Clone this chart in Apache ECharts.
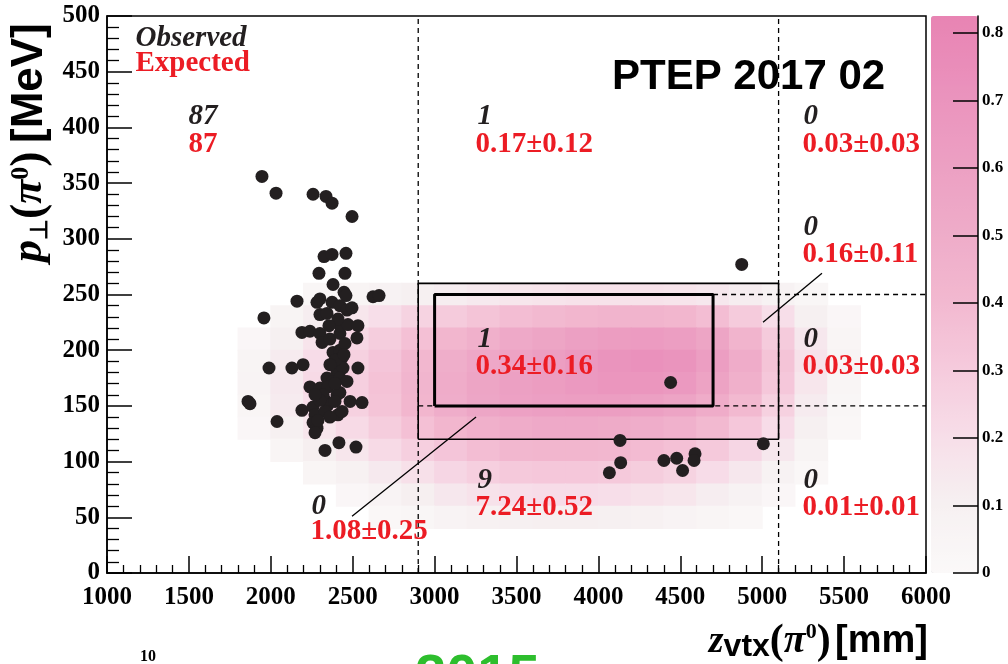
<!DOCTYPE html>
<html><head><meta charset="utf-8">
<script src="https://cdn.jsdelivr.net/npm/echarts@6/dist/echarts.min.js"></script>
<style>html,body{margin:0;padding:0;background:#fff}#c{width:1008px;height:664px}</style>
</head><body><div id="c"></div>
<script>
// ---------- axis ticks ----------
const xMin = 1000, xMax = 6000, xStep = 500;
const yMin = 0, yMax = 500, yStep = 50;
const colorbarMax = 0.825;
const colorbarTicks = [0, 0.1, 0.2, 0.3, 0.4, 0.5, 0.6, 0.7, 0.8];

// ---------- expected density (z bin centres x pT bin centres) ----------
const zBins = [1900,2100,2300,2500,2700,2900,3100,3300,3500,3700,3900,4100,4300,4500,4700,4900,5100,5300,5500];
const pBins = [250,230,210,190,170,150,130,110,90,70,50];
const dens250 = [0,0,0.04,0.06,0.08,0.10,0.12,0.14,0.16,0.17,0.18,0.18,0.18,0.17,0.15,0.12,0.08,0.04,0];
const dens230 = [0,0.06,0.12,0.16,0.20,0.26,0.30,0.34,0.38,0.40,0.42,0.44,0.44,0.42,0.38,0.30,0.20,0.10,0.03];
const dens210 = [0.03,0.10,0.17,0.23,0.29,0.36,0.42,0.47,0.52,0.56,0.60,0.63,0.64,0.62,0.56,0.44,0.30,0.15,0.05];
const dens190 = [0.06,0.13,0.21,0.27,0.33,0.41,0.48,0.54,0.58,0.62,0.66,0.70,0.72,0.70,0.62,0.50,0.34,0.18,0.06];
const dens170 = [0.07,0.14,0.22,0.28,0.35,0.43,0.50,0.56,0.60,0.63,0.66,0.68,0.68,0.66,0.58,0.47,0.32,0.16,0.05];
const dens150 = [0.05,0.13,0.20,0.27,0.34,0.42,0.49,0.55,0.59,0.61,0.62,0.62,0.60,0.57,0.50,0.40,0.27,0.13,0.04];
const dens130 = [0.03,0.10,0.16,0.22,0.29,0.36,0.42,0.47,0.50,0.52,0.52,0.51,0.49,0.46,0.40,0.32,0.21,0.10,0.02];
const dens110 = [0,0.05,0.11,0.16,0.22,0.28,0.33,0.38,0.41,0.42,0.42,0.41,0.39,0.36,0.31,0.24,0.15,0.06,0];
const dens90  = [0,0,0.05,0.09,0.14,0.19,0.24,0.28,0.31,0.32,0.32,0.31,0.29,0.26,0.21,0.15,0.08,0.02,0];
const dens70  = [0,0,0,0.03,0.07,0.11,0.15,0.18,0.20,0.21,0.21,0.20,0.18,0.16,0.12,0.08,0.03,0,0];
const dens50  = [0,0,0,0,0.02,0.04,0.07,0.09,0.10,0.11,0.11,0.10,0.09,0.07,0.05,0.02,0,0,0];
const densityRows = [dens250,dens230,dens210,dens190,dens170,dens150,dens130,dens110,dens90,dens70,dens50];

// ---------- observed events [z_vtx (mm), pT (MeV)] ----------
const eventsUpstream = [
  [1946,356],[2032,341],[2258,340],[2337,338],[2374,332],[2496,320],
  [2325,284],[2374,286],[2459,287],[2294,269],[2453,269],[2380,259],[2447,252],[2459,249],[2160,244],[2282,243],[2300,246],[2374,243],[2422,240],[2624,248],[2661,249],
  [1958,229],[2300,232],[2343,233],[2465,236],[2496,238],[2190,216],[2239,217],[2300,215],[2313,207],[2361,210],[2422,215],[2422,222],[2471,223],[2532,222],[2526,211],[2380,198],[2422,200],[2435,193],[2422,185],[2404,180],[2441,184],[1989,184],[2129,184],[2197,187],[2532,184],[2343,175],[2380,172],[2422,175],[2465,172],[2239,167],[2300,166],[2349,167],[2404,160],[2422,162],
  [1861,154],[1873,152],[2331,155],[2349,151],[2392,154],[2484,154],[2557,153],[2190,146],[2258,149],[2270,142],[2331,145],[2410,142],[2361,140],[2038,136],[2258,135],[2282,130],[2270,126],[2331,110],[2416,117],[2520,113],
  [2392,191],[2453,206],[2319,160],[2288,137],[2361,187],[2410,228],[2447,196],[2300,155],[2392,170],[2435,145],[2270,160],[2355,222]
];
const eventsDecay = [[4875,277],[4441,171],[4132,119],[4136,99],[4067,90],[4400,101],[4478,103],[4514,92],[4590,107],[4584,101],[5007,116]];

// ---------- regions ----------
const outerBox = [[2900,120],[5100,120],[5100,260],[2900,260],[2900,120]];
const signalBox = [[3000,150],[4700,150],[4700,250],[3000,250],[3000,150]];
const dashedLines = [
  [[2900,0],[2900,500]], [[5100,0],[5100,500]],
  [[4700,250],[6000,250]], [[2900,150],[6000,150]]
];
const pointerLines = [ [[2496,51],[3253,140]], [[5005,225],[5365,269]] ];

// ---------- annotations ----------
const annText = ['Observed','Expected','87','87','1','0.17\u00b10.12','0','0.03\u00b10.03','0','0.16\u00b10.11','1','0.34\u00b10.16','0','0.03\u00b10.03','9','7.24\u00b10.52','0','0.01\u00b10.01','0','1.08\u00b10.25'];
const annZ = [1177,1177,1500,1500,3265,3253,5255,5249,5255,5249,3265,3253,5255,5249,3265,3253,5255,5249,2252,2245];
const annP = [479,457,409,384,409,384,409,384,310,285,209,185,209,185,83,58,83,58,59,37];
const annKind = ['obs','exp','obs','exp','obs','exp','obs','exp','obs','exp','obs','exp','obs','exp','obs','exp','obs','exp','obs','exp'];

const RED = '#ec1c24';
const SERIF = '"Liberation Serif","Times New Roman",serif';
const SANS = '"Liberation Sans",Arial,sans-serif';

const heatData = [];
densityRows.forEach((row, i) => row.forEach((v, j) => { if (v > 0) heatData.push([zBins[j], pBins[i], v]); }));

const lineSeries = (pts, width, type) => ({
  type: 'line', data: pts, symbol: 'none', silent: true, z: 5, animation: false,
  lineStyle: { color: '#000', width: width, type: type || 'solid' }
});

const series = [
  {
    type: 'custom', data: heatData, z: 1, silent: true, animation: false,
    renderItem: function (params, api) {
      const z = api.value(0), p = api.value(1);
      const a = api.coord([z - 100, p + 10]);
      const b = api.coord([z + 100, p - 10]);
      return { type: 'rect', shape: { x: a[0] - 0.5, y: a[1] - 0.5, width: b[0] - a[0] + 1, height: b[1] - a[1] + 1 },
               style: { fill: api.visual('color') } };
    }
  }
];
dashedLines.forEach(l => series.push(lineSeries(l, 1.3, [5, 4])));
series.push(lineSeries(outerBox, 1.6));
series.push(lineSeries(signalBox, 3));
pointerLines.forEach(l => series.push(lineSeries(l, 1.3)));
series.push({
  type: 'scatter', data: eventsUpstream.concat(eventsDecay), symbolSize: 13, z: 6, silent: true, animation: false,
  itemStyle: { color: '#231f20', opacity: 1 }
});
series.push({
  type: 'scatter', z: 7, silent: true, animation: false, symbolSize: 1,
  itemStyle: { color: 'rgba(0,0,0,0)', opacity: 1 },
  data: annText.map((t, i) => ({
    value: [annZ[i], annP[i]],
    label: {
      show: true, position: [0, 0], align: 'left', verticalAlign: 'middle', formatter: t,
      fontFamily: SERIF, fontWeight: 'bold',
      fontStyle: annKind[i] === 'obs' ? 'italic' : 'normal',
      fontSize: 29,
      color: annKind[i] === 'obs' ? '#231f20' : RED
    }
  }))
});

const chart = echarts.init(document.getElementById('c'), null, { renderer: 'canvas' });
chart.setOption({
  animation: false,
  backgroundColor: '#fff',
  grid: [
    { left: 107, right: 82, top: 16, bottom: 91, show: true, borderColor: '#000', borderWidth: 1.5, backgroundColor: 'transparent' },
    { left: 931, width: 47, top: 16, height: 557, show: false }
  ],
  xAxis: [
    { type: 'value', min: xMin, max: xMax, interval: xStep, gridIndex: 0,
      axisLine: { lineStyle: { color: '#000', width: 1.5 } },
      axisTick: { inside: true, length: 17, lineStyle: { color: '#000', width: 1.5 } },
      minorTick: { show: true, splitNumber: 5, length: 8, lineStyle: { color: '#000', width: 1.3 } },
      splitLine: { show: false },
      axisLabel: { color: '#000', fontFamily: SERIF, fontWeight: 'bold', fontSize: 25, margin: 12, formatter: v => String(v) } },
    { type: 'value', gridIndex: 1, min: 0, max: 1, show: false }
  ],
  yAxis: [
    { type: 'value', min: yMin, max: yMax, interval: yStep, gridIndex: 0,
      axisLine: { lineStyle: { color: '#000', width: 1.5 } },
      axisTick: { inside: true, length: 25, lineStyle: { color: '#000', width: 1.5 } },
      minorTick: { show: true, splitNumber: 5, length: 12, lineStyle: { color: '#000', width: 1.3 } },
      splitLine: { show: false },
      axisLabel: { color: '#000', fontFamily: SERIF, fontWeight: 'bold', fontSize: 25, margin: 7, formatter: v => String(v) } },
    { type: 'value', gridIndex: 1, position: 'right', min: 0, max: colorbarMax, z: 10,
      axisLine: { show: true, onZero: false, lineStyle: { color: '#000', width: 1.5 } },
      axisTick: { show: true, inside: true, length: 25, customValues: colorbarTicks, lineStyle: { color: '#000', width: 1.5 } },
      axisLabel: { show: true, customValues: colorbarTicks, color: '#000', fontFamily: SERIF, fontWeight: 'bold', fontSize: 17, margin: 4, formatter: v => String(v) },
      splitLine: { show: false } }
  ],
  visualMap: [{
    type: 'continuous', min: 0, max: colorbarMax, seriesIndex: 0, dimension: 2, z: 1,
    left: 931, top: 16, itemWidth: 47, itemHeight: 557, padding: 0, calculable: false, hoverLink: false,
    inRange: { color: ['#fbf9f9','#f6f0f1','#f7dde8','#f5c9db','#f2b7cf','#eeaac8','#ec9ec2','#ea91bc','#e884b3'] }
  }],
  series: series,
  graphic: [
    { type: 'text', left: 612, top: 56, z: 3,
      style: { text: 'PTEP 2017 02', font: 'bold 42px ' + SANS, fill: '#000' } },
    { type: 'text', x: 30, y: 262, rotation: Math.PI / 2, z: 10,
      style: {
        text: '{p|p}{s|\u22a5}{q|(}{pi|\u03c0}{u|0}{q|)}{sp| }{b|[MeV]}', align: 'left', verticalAlign: 'middle',
        rich: {
          p: { font: 'italic bold 44px ' + SERIF, fill: '#000', verticalAlign: 'middle', lineHeight: 44 },
          s: { font: 'bold 24px ' + SANS, fill: '#000', verticalAlign: 'bottom', lineHeight: 18 },
          q: { font: 'bold 46px ' + SERIF, fill: '#000', verticalAlign: 'middle', lineHeight: 44 },
          pi: { font: 'italic bold 44px ' + SERIF, fill: '#000', verticalAlign: 'middle', lineHeight: 44 },
          u: { font: 'bold 26px ' + SERIF, fill: '#000', verticalAlign: 'top', lineHeight: 22 },
          sp: { font: 'bold 30px ' + SANS, fill: '#000', verticalAlign: 'middle', lineHeight: 44 },
          b: { font: 'bold 44px ' + SANS, fill: '#000', verticalAlign: 'middle', lineHeight: 44 }
        }
      } },
    { type: 'text', x: 928, y: 642, z: 10,
      style: {
        text: '{z|z}{s|vtx}{q|(}{pi|\u03c0}{u|0}{q|)}{sp| }{b|[mm]}', align: 'right', verticalAlign: 'middle',
        rich: {
          z: { font: 'italic bold 38px ' + SERIF, fill: '#000', verticalAlign: 'middle', lineHeight: 42 },
          s: { font: 'bold 32px ' + SANS, fill: '#000', verticalAlign: 'bottom', lineHeight: 24 },
          q: { font: 'bold 42px ' + SERIF, fill: '#000', verticalAlign: 'middle', lineHeight: 42 },
          pi: { font: 'italic bold 40px ' + SERIF, fill: '#000', verticalAlign: 'middle', lineHeight: 42 },
          u: { font: 'bold 22px ' + SERIF, fill: '#000', verticalAlign: 'top', lineHeight: 22 },
          sp: { font: 'bold 16px ' + SANS, fill: '#000', verticalAlign: 'middle', lineHeight: 42 },
          b: { font: 'bold 38px ' + SANS, fill: '#000', verticalAlign: 'middle', lineHeight: 42 }
        }
      } },
    { type: 'text', left: 415, top: 650, z: 10,
      style: { text: '2015', font: 'bold 56px ' + SANS, fill: '#2dbe2d' } },
    { type: 'text', left: 140, top: 649, z: 10,
      style: { text: '10', font: 'bold 16px ' + SERIF, fill: '#000' } }
  ]
});
</script>
</body></html>
